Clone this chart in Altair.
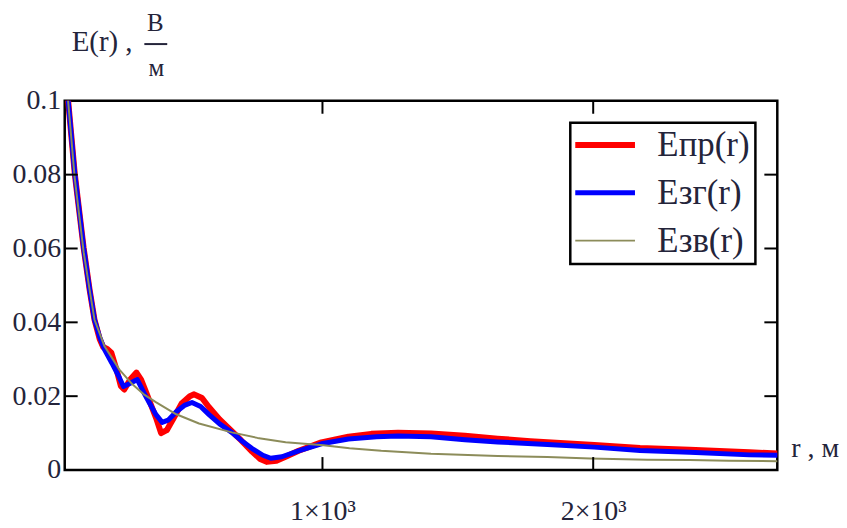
import altair as alt
import pandas as pd

# ---------------- data ----------------
r_pr = [57, 85, 118, 140, 158, 177, 190, 205, 220, 240, 255, 268, 290, 313, 330, 349,
        370, 386, 404, 425, 450, 480, 510, 526, 555, 581, 620, 665, 700, 740, 770, 794,
        830, 870, 912, 996, 1096, 1180, 1279, 1401, 1526, 1647, 1768, 2004, 2173, 2356,
        2577, 2680]
e_pr = [0.103, 0.0803, 0.0601, 0.0488, 0.0407, 0.0355, 0.0333, 0.0328, 0.0318, 0.0270,
        0.0228, 0.0218, 0.0245, 0.0264, 0.0245, 0.0210, 0.0170, 0.0140, 0.0100, 0.0108,
        0.0140, 0.0180, 0.0200, 0.0205, 0.0195, 0.0170, 0.0137, 0.0105, 0.0080, 0.0050,
        0.0030, 0.0022, 0.0025, 0.0038, 0.0052, 0.0075, 0.0090, 0.0098, 0.0101, 0.0099,
        0.0093, 0.0085, 0.0078, 0.0068, 0.0060, 0.0055, 0.0048, 0.0045]

r_zg = [57, 85, 118, 140, 158, 177, 195, 222, 250, 265, 290, 316, 340, 360, 385, 408,
        430, 460, 490, 518, 550, 581, 620, 665, 700, 740, 780, 809, 850, 912, 996, 1096,
        1200, 1279, 1401, 1526, 1647, 1831, 2004, 2173, 2356, 2577, 2680]
e_zg = [0.103, 0.0803, 0.0601, 0.0488, 0.0407, 0.0360, 0.0326, 0.0290, 0.0250, 0.0226,
        0.0235, 0.0245, 0.0210, 0.0183, 0.0150, 0.0129, 0.0135, 0.0158, 0.0175, 0.0183,
        0.0172, 0.0150, 0.0125, 0.0102, 0.0080, 0.0058, 0.0040, 0.0032, 0.0036, 0.0052,
        0.0071, 0.0084, 0.0090, 0.0092, 0.0090, 0.0082, 0.0076, 0.0069, 0.0062, 0.0053,
        0.0048, 0.0041, 0.0040]

r_zv = [57, 85, 118, 140, 158, 195, 250, 298, 340, 386, 460, 544, 665, 760, 864, 1004,
        1100, 1217, 1401, 1647, 1831, 1989, 2200, 2356, 2500, 2680]
e_zv = [0.103, 0.0790, 0.0590, 0.0488, 0.0407, 0.0335, 0.0272, 0.0232, 0.0205, 0.0183,
        0.0151, 0.0126, 0.0102, 0.0087, 0.0075, 0.0067, 0.0059, 0.0052, 0.0044, 0.0038,
        0.0035, 0.0031, 0.0028, 0.0027, 0.0025, 0.0024]

series_names = ["Епр(r)", "Езг(r)", "Езв(r)"]
series_colors = ["#ff0000", "#0000ff", "#8c8c5a"]
series_widths = [6, 5, 2]

x_domain = [48, 2680]
y_domain = [0, 0.1]
x_ticks = [1000, 2000]
x_tick_labels = ["1×10³", "2×10³"]
y_ticks = [0, 0.02, 0.04, 0.06, 0.08, 0.1]
y_inner_ticks = [0.02, 0.04, 0.06, 0.08]

y_title_main = ["E(r) ,"]
y_title_num = ["В"]
y_title_den = ["м"]
x_title = ["r , м"]

# ---------------- build ----------------
FONT = "'Liberation Serif', 'Times New Roman', 'DejaVu Serif', serif"
TEXT = "#24243a"
W, H = 716, 371

rows = []
for name, rs, es in zip(series_names, [r_pr, r_zg, r_zv], [e_pr, e_zg, e_zv]):
    for r, e in zip(rs, es):
        rows.append({"series": name, "r": r, "E": e})
df = pd.DataFrame(rows)

xs = alt.Scale(domain=x_domain, nice=False, zero=False)
ys = alt.Scale(domain=y_domain, nice=False, zero=False)

x_expr = " : ".join(
    f"datum.value == {v} ? '{t}'" for v, t in zip(x_ticks, x_tick_labels)
) + " : ''"

x_axis = alt.Axis(
    values=x_ticks, labelExpr=x_expr, title=None, ticks=False, tickSize=0,
    domain=False, grid=False, labelFont=FONT, labelFontSize=28, labelColor=TEXT,
    labelBaseline="alphabetic", labelPadding=50, labelFlush=False, labelOverlap=False)
y_axis = alt.Axis(
    values=y_ticks, format=".2~f", title=None, ticks=False, tickSize=0,
    domain=False, grid=False, labelFont=FONT, labelFontSize=28, labelColor=TEXT,
    labelPadding=4, labelFlush=False, labelOverlap=False, labelBaseline="middle")

leg_kw = dict(
    title=None, orient="none", legendX=508, legendY=22, direction="vertical",
    symbolType="M-3,0H3", symbolSize=400, symbolOffset=12.5, labelOffset=35,
    labelFont=FONT, labelFontSize=35, labelColor=TEXT, rowPadding=12, padding=5,
    strokeColor="black", fillColor="white",
    labelExpr="datum.label + '\u00a0\u00a0\u00a0'",
)

lines = alt.Chart(df).mark_line(clip=True, strokeJoin="round", strokeCap="round").encode(
    x=alt.X("r:Q", scale=xs, axis=x_axis),
    y=alt.Y("E:Q", scale=ys, axis=y_axis),
    color=alt.Color("series:N", scale=alt.Scale(domain=series_names, range=series_colors),
                    legend=alt.Legend(**leg_kw)),
    strokeWidth=alt.StrokeWidth("series:N",
                                scale=alt.Scale(type="ordinal", domain=series_names,
                                                range=series_widths),
                                legend=alt.Legend(**leg_kw)),
)

ytick_df = pd.DataFrame({"v": y_inner_ticks})
xtick_df = pd.DataFrame({"v": x_ticks})
TL = 13
tick_left = alt.Chart(ytick_df).mark_rule(color="black", strokeWidth=2).encode(
    y=alt.Y("v:Q", scale=ys, axis=y_axis), x=alt.value(0), x2=alt.value(TL))
tick_right = alt.Chart(ytick_df).mark_rule(color="black", strokeWidth=2).encode(
    y=alt.Y("v:Q", scale=ys, axis=y_axis), x=alt.value(W - TL), x2=alt.value(W))
tick_bottom = alt.Chart(xtick_df).mark_rule(color="black", strokeWidth=2).encode(
    x=alt.X("v:Q", scale=xs, axis=x_axis), y=alt.value(H - TL), y2=alt.value(H))
tick_top = alt.Chart(xtick_df).mark_rule(color="black", strokeWidth=2).encode(
    x=alt.X("v:Q", scale=xs, axis=x_axis), y=alt.value(0), y2=alt.value(TL))

def label(texts, x, y, size, align="left"):
    return alt.Chart(pd.DataFrame({"t": texts})).mark_text(
        align=align, baseline="alphabetic", font=FONT, fontSize=size, color=TEXT
    ).encode(x=alt.value(x), y=alt.value(y), text="t:N")

t_main = label(y_title_main, 7, -50, 29)
t_num = label(y_title_num, 91, -70, 25, "center")
t_den = label(y_title_den, 92, -25, 25, "center")
frac = alt.Chart(pd.DataFrame({"t": y_title_num})).mark_rule(color=TEXT, strokeWidth=2).encode(
    x=alt.value(80), x2=alt.value(103), y=alt.value(-57))
t_x = label(x_title, 730, 358, 28)

chart = alt.layer(
    lines, tick_left, tick_right, tick_bottom, tick_top, t_main, t_num, t_den, frac, t_x
).properties(
    width=W, height=H,
    autosize=alt.AutoSizeParams(type="none"),
    padding={"left": 57, "top": 92, "right": 62, "bottom": 55},
).configure_view(
    stroke="black", strokeWidth=2.5
).configure_legend(
    strokeWidth=2.5
)

chart.save("out.html", embed_options={"renderer": "svg", "actions": False})
